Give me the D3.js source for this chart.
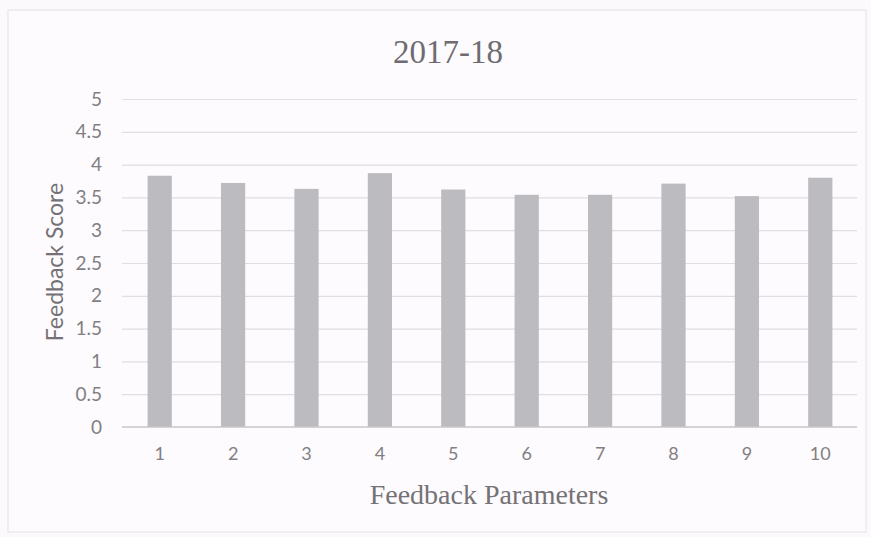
<!DOCTYPE html>
<html>
<head>
<meta charset="utf-8">
<script src="https://cdn.jsdelivr.net/npm/d3@7"></script>
<style>
  html, body { margin: 0; padding: 0; background: #fbf9fb; }
  svg { display: block; }
</style>
</head>
<body>
<svg id="chart" width="871" height="537"></svg>
<script>
// ---- data ----
const title = "2017-18";
const xAxisTitle = "Feedback Parameters";
const yAxisTitle = "Feedback Score";
const categories = ["1", "2", "3", "4", "5", "6", "7", "8", "9", "10"];
const scores = [3.83, 3.72, 3.63, 3.87, 3.62, 3.54, 3.54, 3.71, 3.52, 3.80];
const yTicks = [0, 0.5, 1, 1.5, 2, 2.5, 3, 3.5, 4, 4.5, 5];

// ---- layout ----
const W = 871, H = 537;
const plot = { left: 123, right: 857, top: 99, bottom: 427 };
const svg = d3.select("#chart");

svg.append("rect")
  .attr("x", 8).attr("y", 10).attr("width", 858).attr("height", 522)
  .attr("fill", "#fdfbfd").attr("stroke", "#e6e2e6").attr("stroke-width", 1);

const x = d3.scaleBand()
  .domain(categories)
  .range([plot.left, plot.right])
  .paddingInner(0.67)
  .paddingOuter(0.335);

const y = d3.scaleLinear()
  .domain([0, 5])
  .range([plot.bottom, plot.top]);

// gridlines via axis
const grid = svg.append("g")
  .attr("transform", `translate(${plot.left - 1},0)`)
  .call(d3.axisLeft(y).tickValues(yTicks.filter(d => d > 0))
    .tickSize(-(plot.right - plot.left + 1)).tickFormat(""));
grid.select(".domain").remove();
grid.selectAll(".tick line").attr("stroke", "#e1dde1").attr("stroke-width", 1.2);

// y tick labels
const yAxis = svg.append("g")
  .attr("transform", `translate(${plot.left - 1},0)`)
  .call(d3.axisLeft(y).tickValues(yTicks).tickSize(0).tickPadding(20)
    .tickFormat(d => String(d)));
yAxis.select(".domain").remove();
yAxis.selectAll("text")
  .attr("fill", "#817f83")
  .style("font-family", "Lato, 'Open Sans', sans-serif")
  .style("font-size", "19px");

// bars
svg.append("g").selectAll("rect")
  .data(scores)
  .join("rect")
  .attr("x", (d, i) => x(categories[i]))
  .attr("y", d => y(d))
  .attr("width", x.bandwidth())
  .attr("height", d => y(0) - y(d))
  .attr("fill", "#bbbbc0");

// x axis
const xAxis = svg.append("g")
  .attr("transform", `translate(0,${plot.bottom})`)
  .call(d3.axisBottom(x).tickSize(0).tickPadding(20));
xAxis.select(".domain")
  .attr("stroke", "#c9c6ca").attr("stroke-width", 1.5)
  .attr("d", `M${plot.left - 1},0H${plot.right}`);
xAxis.selectAll("text")
  .attr("fill", "#817f83")
  .style("font-family", "Lato, 'Open Sans', sans-serif")
  .style("font-size", "18px");

// titles
svg.append("text")
  .attr("x", 448).attr("y", 63)
  .attr("text-anchor", "middle")
  .attr("fill", "#6e6c70")
  .style("font-family", "'Liberation Serif', 'DejaVu Serif', serif")
  .style("font-size", "33px")
  .text(title);

svg.append("text")
  .attr("x", 489).attr("y", 504)
  .attr("text-anchor", "middle")
  .attr("fill", "#747276")
  .style("font-family", "'Liberation Serif', 'DejaVu Serif', serif")
  .style("font-size", "28px")
  .text(xAxisTitle);

svg.append("text")
  .attr("transform", "translate(63,262) rotate(-90)")
  .attr("text-anchor", "middle")
  .attr("fill", "#747276")
  .style("font-family", "Lato, 'Open Sans', sans-serif")
  .style("font-size", "23px")
  .text(yAxisTitle);
</script>
</body>
</html>
